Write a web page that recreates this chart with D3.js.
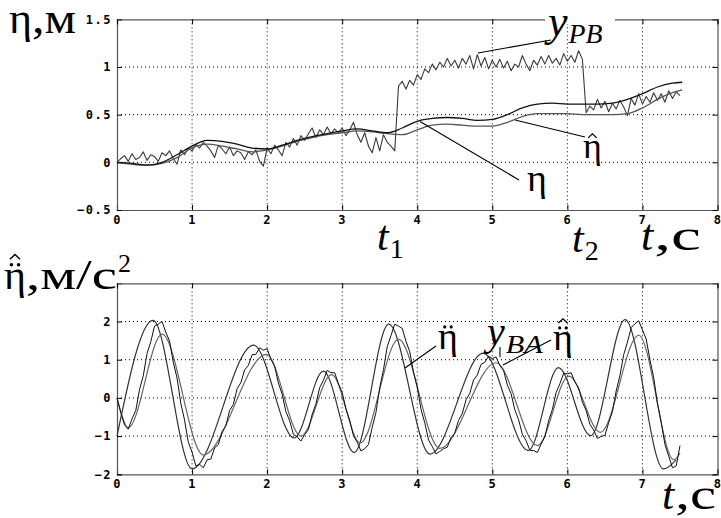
<!DOCTYPE html>
<html><head><meta charset="utf-8">
<script src="https://cdn.jsdelivr.net/npm/d3@7"></script>
<style>body{margin:0;background:#fff}svg{display:block}</style>
</head><body>
<svg id="c" width="721" height="518"></svg>
<script>
// ---------- data ----------
const xTicks = [0,1,2,3,4,5,6,7,8];
const topYTicks = [-0.5,0,0.5,1,1.5];
const topYLabels = ["\u22120.5","0","0.5","1","1.5"];
const botYTicks = [-2,-1,0,1,2];
const botYLabels = ["\u22122","\u22121","0","1","2"];

const sampleStep = 0.05; // sampling period of the noisy measurements, s

// top panel: smooth curves (eta, eta-hat)
const etaT = [0,0.2,0.4,0.6,0.8,1.0,1.2,1.4,1.6,1.8,2.0,2.2,2.4,2.6,2.8,3.0,3.2,3.4,3.6,3.8,4.0,4.2,4.4,4.6,4.8,5.0,5.2,5.4,5.6,5.8,6.0,6.2,6.4,6.6,6.8,7.0,7.2,7.4,7.53];
const etaV = [0,-0.01,-0.03,0,0.08,0.17,0.23,0.22,0.19,0.15,0.14,0.18,0.23,0.27,0.30,0.33,0.35,0.33,0.31,0.36,0.43,0.46,0.47,0.46,0.44,0.45,0.50,0.57,0.61,0.62,0.61,0.61,0.61,0.62,0.66,0.72,0.79,0.83,0.84];
const etaHatV = [0,-0.02,-0.03,-0.01,0.05,0.15,0.19,0.17,0.14,0.11,0.13,0.17,0.22,0.26,0.29,0.31,0.33,0.32,0.30,0.29,0.34,0.39,0.40,0.39,0.38,0.38,0.42,0.48,0.51,0.51,0.51,0.50,0.50,0.50,0.51,0.57,0.66,0.73,0.76];
// top panel: noisy measurement y_PB
const yPB = [
 0.00,0.04,0.07,0.01,0.09,0.03,0.05,0.11,0.02,0.08,
 0.06,0.01,0.10,0.07,0.12,0.04,-0.02,0.13,0.08,0.15,
 0.12,0.19,0.15,0.21,0.17,0.12,0.05,0.18,0.14,0.09,
 0.16,0.07,0.12,0.10,0.03,0.11,0.08,0.13,0.01,-0.04,
 0.15,0.09,0.18,0.13,0.07,0.21,0.16,0.25,0.18,0.28,
 0.23,0.30,0.36,0.26,0.34,0.29,0.37,0.30,0.35,0.31,
 0.36,0.28,0.34,0.42,0.29,0.21,0.31,0.17,0.10,0.26,
 0.12,0.29,0.21,0.17,0.12,0.80,0.85,0.77,0.86,0.81,
 0.92,0.87,0.98,0.94,1.03,0.97,1.05,1.00,1.09,1.01,
 1.07,0.99,1.09,1.03,1.12,0.98,1.13,1.01,1.10,0.98,
 1.07,1.00,1.08,0.99,1.06,0.96,1.03,1.00,1.12,1.03,
 0.96,1.07,1.02,1.11,1.03,1.12,1.04,1.09,1.02,1.14,
 1.06,1.12,1.05,1.17,1.08,0.52,0.59,0.55,0.66,0.57,
 0.64,0.53,0.62,0.56,0.65,0.58,0.49,0.67,0.60,0.72,
 0.61,0.69,0.63,0.73,0.65,0.72,0.63,0.75,0.67,0.74,
 0.70];

// bottom panel: eta-ddot (extrema points)
const eddT = [0,0.48,1.0,1.82,2.36,2.75,3.16,3.62,4.17,4.88,5.48,5.88,6.31,6.77,7.28,7.45];
const eddV = [-1.0,2.03,-1.86,1.38,-1.05,0.70,-1.43,1.93,-1.47,1.17,-1.38,0.79,-0.99,2.05,-1.86,-1.62];
// bottom panel: eta-hat-ddot (extrema points)
const eddHatT = [0,0.15,0.6,1.15,1.99,2.45,2.86,3.24,3.75,4.3,5.05,5.6,6.02,6.44,6.95,7.42,7.5];
const eddHatV = [0,-0.78,1.67,-1.49,1.14,-1.0,0.61,-1.18,1.53,-1.32,0.92,-1.25,0.57,-0.9,1.64,-1.62,-1.45];
// bottom panel: noisy measurement y_BA
const yBA = [
 0.00,-0.38,-0.70,-0.82,-0.55,-0.33,0.22,0.58,1.16,1.47,
 1.88,1.93,2.00,1.72,1.49,0.93,0.52,-0.14,-0.58,-1.16,
 -1.42,-1.78,-1.74,-1.83,-1.62,-1.60,-1.31,-1.22,-0.88,-0.73,
 -0.33,-0.17,0.24,0.40,0.73,0.85,1.13,1.14,1.31,1.25,
 1.29,1.01,0.83,0.39,0.10,-0.36,-0.60,-0.95,-1.02,-1.13,
 -0.96,-0.83,-0.43,-0.16,0.27,0.46,0.72,0.66,0.66,0.37,
 0.14,-0.29,-0.58,-0.99,-1.16,-1.39,-1.33,-1.22,-0.77,-0.38,
 0.27,0.74,1.34,1.63,1.93,1.88,1.82,1.48,1.21,0.68,
 0.28,-0.30,-0.65,-1.10,-1.27,-1.47,-1.40,-1.33,-1.29,-1.04,
 -0.92,-0.59,-0.41,-0.05,0.12,0.47,0.60,0.88,0.93,1.09,
 1.03,1.07,0.85,0.72,0.34,0.11,-0.31,-0.57,-0.95,-1.12,
 -1.37,-1.38,-1.43,-1.21,-1.02,-0.60,-0.30,0.14,0.37,0.64,
 0.63,0.66,0.42,0.26,-0.11,-0.33,-0.69,-0.84,-1.06,-1.01,
 -0.98,-0.65,-0.36,0.18,0.58,1.13,1.46,1.84,1.94,2.02,
 1.78,1.54,1.00,0.53,-0.14,-0.64,-1.22,-1.52,-1.83,-1.78,
 -1.25];

// ---------- drawing ----------
const svg = d3.select("#c");
const X0 = 117, X1 = 717.5;
const x = d3.scaleLinear().domain([0,8]).range([X0,X1]);
const yTop = d3.scaleLinear().domain([-0.5,1.5]).range([210,19.3]);
const yBot = d3.scaleLinear().domain([-2,3]).range([474.3,283.3]);

const tickFont = "'DejaVu Sans Mono', monospace";
const serif = "'Liberation Serif','Times New Roman',serif";

function panel(y, yTicks, yLabels, yDomain) {
  const g = svg.append("g");
  const [yb, yt] = [y(yDomain[0]), y(yDomain[1])];
  g.selectAll(".gx").data(xTicks.slice(1,-1)).join("line")
    .attr("x1", d=>x(d)).attr("x2", d=>x(d)).attr("y1", yt).attr("y2", yb)
    .attr("stroke","#000").attr("stroke-width",1).attr("stroke-dasharray","1,3");
  g.selectAll(".gy").data(yTicks.filter(v=>v>yDomain[0] && v<yDomain[1])).join("line")
    .attr("y1", d=>y(d)).attr("y2", d=>y(d)).attr("x1", X0).attr("x2", X1)
    .attr("stroke","#000").attr("stroke-width",1).attr("stroke-dasharray","1,3");
  const ax = g.append("g").attr("transform",`translate(0,${yb})`)
    .call(d3.axisBottom(x).tickValues(xTicks).tickSize(-5).tickPadding(7).tickFormat(d3.format("d")));
  g.append("g").attr("transform",`translate(${X0},0)`)
    .call(d3.axisLeft(y).tickValues(yTicks).tickSize(-5).tickPadding(5).tickFormat((d,i)=>yLabels[i]));
  g.append("g").attr("transform",`translate(${X1},0)`)
    .call(d3.axisRight(y).tickValues(yTicks).tickSize(-5).tickFormat(""));
  g.append("g").attr("transform",`translate(0,${yt})`)
    .call(d3.axisTop(x).tickValues(xTicks).tickSize(-5).tickFormat(""));
  g.selectAll(".domain").attr("stroke","#555").attr("stroke-width",1.2);
  g.selectAll(".tick line").attr("stroke","#000");
  g.selectAll(".tick text").attr("font-family",tickFont)
    .attr("font-size",12).attr("fill","#000").attr("letter-spacing","1.5px")
    .style("font-weight","700");
  ax.selectAll(".tick text").attr("dy","0.55em");
  return g;
}

panel(yTop, topYTicks, topYLabels, [-0.5,1.5]);
panel(yBot, botYTicks, botYLabels, [-2,3]);

const lineTop = d3.line().x(d=>x(d[0])).y(d=>yTop(d[1]));
const lineBot = d3.line().x(d=>x(d[0])).y(d=>yBot(d[1]));

function draw(gen, pts, color, w, curve) {
  svg.append("path").datum(pts).attr("d", gen.curve(curve||d3.curveLinear))
    .attr("fill","none").attr("stroke",color).attr("stroke-width",w).attr("stroke-linejoin","round");
}

draw(lineTop, yPB.map((v,i)=>[i*sampleStep,v]), "#3a3a3a", 1.1);
draw(lineTop, etaT.map((t,i)=>[t,etaHatV[i]]), "#555", 1.3, d3.curveMonotoneX);
draw(lineTop, etaT.map((t,i)=>[t,etaV[i]]), "#111", 1.3, d3.curveMonotoneX);

draw(lineBot, eddT.map((t,i)=>[t,eddV[i]]), "#333", 1.2, d3.curveMonotoneX);
draw(lineBot, eddHatT.map((t,i)=>[t,eddHatV[i]]), "#666", 1.2, d3.curveMonotoneX);
draw(lineBot, yBA.map((v,i)=>[i*sampleStep,v]), "#111", 1.0);

// ---------- annotations ----------
function txt(s, xx, yy, size, opts={}) {
  const t = svg.append("text").attr("x",xx).attr("y",yy).attr("font-family",serif)
    .attr("font-size",size).attr("font-style",opts.italic?"italic":"normal")
    .attr("text-anchor",opts.anchor||"start").attr("fill","#000").text(s);
  if (opts.width) t.attr("textLength",opts.width).attr("lengthAdjust","spacingAndGlyphs");
  return t;
}
function len(t){ return t.node().getComputedTextLength(); }
function leader(x1,y1,x2,y2){
  svg.append("line").attr("x1",x1).attr("y1",y1).attr("x2",x2).attr("y2",y2)
    .attr("stroke","#000").attr("stroke-width",1.1);
}
function eta(xx, yy, size, dots, hat) {
  const t = txt("\u03b7", xx, yy, size);
  const w = len(t);
  const cx = xx + w*0.5;
  const top = yy - size*0.46;
  if (dots) {
    const dy = top - size*0.12;
    [-1,1].forEach(s=>svg.append("circle").attr("cx",cx + s*size*0.085).attr("cy",dy)
      .attr("r",size*0.042).attr("fill","#000"));
  }
  if (hat) {
    const base = top - size*(dots ? 0.25 : 0.10);
    const h = size*0.11, hw = size*0.12;
    svg.append("path").attr("d",`M${cx-hw},${base} L${cx},${base-h} L${cx+hw},${base}`)
      .attr("fill","none").attr("stroke","#000").attr("stroke-width",size*0.035);
  }
  return xx + w;
}
function withSub(main, sub, xx, yy, size, subSize, subDy, italicSub, subW) {
  const m = txt(main, xx, yy, size, {italic:true});
  txt(sub, xx + len(m) + 1, yy + subDy, subSize, {italic:italicSub, width:subW});
}

// top panel labels
let e = eta(9, 33, 44, false, false);
txt(",\u043c", e, 33, 44, {width: 76 - e});

svg.append("rect").attr("x",545).attr("y",10).attr("width",70).attr("height",14).attr("fill","#fff");
withSub("y", "PB", 548, 36, 44, 28, 7, true, 34);
leader(478, 53, 551, 40);

eta(583, 158, 36, false, true);
leader(515, 120, 585, 137);

eta(527, 191, 38, false, false);
leader(420, 121.5, 519, 180);

withSub("t", "1", 377, 250, 42, 28, 8, false);
withSub("t", "2", 572, 252, 42, 28, 8, false);
let tt = txt("t", 641, 250, 44, {italic:true});
txt(",\u0441", 641 + len(tt) + 1, 250, 44, {width: 701 - (641 + len(tt) + 1)});

// bottom panel labels
e = eta(4, 289, 42, true, true);
txt(",\u043c/\u0441", e, 289, 42, {width: 117 - e});
txt("2", 118, 272, 26);

eta(438, 349, 38, true, false);
leader(405, 368, 436, 346);

withSub("y", "BA", 487, 345, 40, 26, 8, true, 37);
leader(500, 347, 500, 357);

eta(553, 350, 38, true, true);
leader(551, 340, 503, 365);

tt = txt("t", 662, 509, 44, {italic:true});
txt(",\u0441", 662 + len(tt) + 1, 509, 44, {width: 716 - (662 + len(tt) + 1)});
</script>
</body></html>
